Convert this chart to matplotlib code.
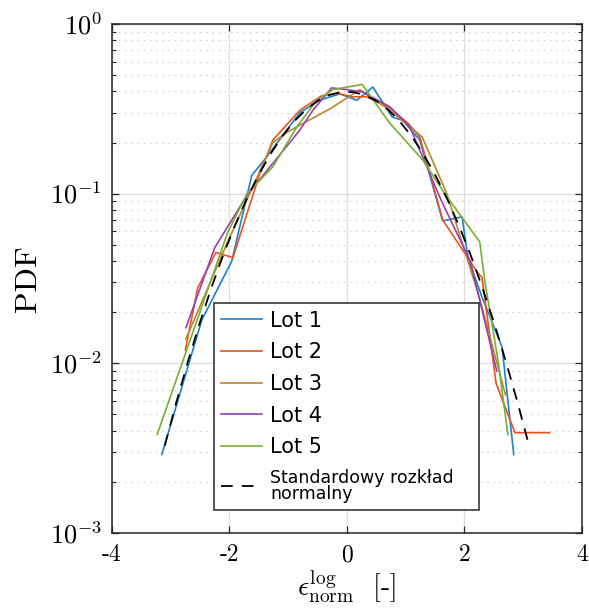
import numpy as np
import matplotlib
matplotlib.use("Agg")
import matplotlib.pyplot as plt
from matplotlib.ticker import FixedLocator, LogLocator, FuncFormatter, NullFormatter

plt.rcParams['mathtext.fontset'] = 'cm'
plt.rcParams['axes.formatter.use_mathtext'] = True

# data
lot1_x = [-3.15, -2.47, -1.96, -1.62, -1.43, -0.80, -0.46, -0.12, 0.17, 0.44, 0.77, 0.95, 1.24, 1.63, 1.96, 2.06, 2.30, 2.64, 2.84]
lot1_y = [0.0029, 0.018, 0.040, 0.128, 0.154, 0.30, 0.356, 0.387, 0.355, 0.425, 0.283, 0.27, 0.207, 0.069, 0.073, 0.042, 0.0245, 0.0125, 0.0029]

lot2_x = [-2.75, -2.54, -2.23, -1.94, -1.48, -1.26, -0.80, -0.43, -0.17, 0.10, 0.34, 0.73, 1.04, 1.24, 1.63, 2.23, 2.30, 2.54, 2.86, 3.45]
lot2_y = [0.012, 0.0278, 0.045, 0.042, 0.132, 0.207, 0.31, 0.377, 0.39, 0.372, 0.372, 0.32, 0.26, 0.216, 0.07, 0.034, 0.032, 0.0076, 0.0039, 0.0039]

lot3_x = [-2.74, -2.04, -1.26, -1.02, -0.29, 0.22, 0.73, 1.28, 1.70, 2.26, 2.70]
lot3_y = [0.0139, 0.051, 0.20, 0.23, 0.316, 0.41, 0.31, 0.216, 0.10, 0.024, 0.0065]

lot4_x = [-2.74, -2.25, -1.70, -0.80, -0.58, -0.26, 0.00, 0.27, 0.73, 1.07, 1.60, 2.10, 2.55]
lot4_y = [0.0162, 0.048, 0.098, 0.237, 0.31, 0.42, 0.41, 0.397, 0.325, 0.248, 0.092, 0.040, 0.009]

lot5_x = [-3.23, -2.03, -1.70, -1.26, -0.85, -0.51, -0.24, 0.26, 0.73, 1.29, 1.70, 2.26, 2.35, 2.57, 2.74]
lot5_y = [0.0038, 0.059, 0.10, 0.144, 0.248, 0.356, 0.41, 0.44, 0.26, 0.158, 0.096, 0.052, 0.030, 0.0105, 0.0038]

norm_x = [-3.1, -2.9, -2.7, -2.5, -2.3, -2.1, -1.9, -1.7, -1.5, -1.3, -1.1, -0.9, -0.7, -0.5, -0.3, -0.1,
          0.1, 0.3, 0.5, 0.7, 0.9, 1.1, 1.3, 1.5, 1.7, 1.9, 2.1, 2.3, 2.5, 2.7, 2.9, 3.1]
norm_y = [0.00327, 0.00595, 0.0104, 0.0175, 0.0283, 0.0440, 0.0656, 0.0940, 0.1295, 0.1714, 0.2179, 0.2661,
          0.3123, 0.3521, 0.3814, 0.3970, 0.3970, 0.3814, 0.3521, 0.3123, 0.2661, 0.2179, 0.1714, 0.1295,
          0.0940, 0.0656, 0.0440, 0.0283, 0.0175, 0.0104, 0.00595, 0.00327]

labels = ['Lot 1', 'Lot 2', 'Lot 3', 'Lot 4', 'Lot 5', 'Standardowy rozkład\nnormalny']
colors = ['#1A82CF', '#E8531E', '#B8862E', '#9B3FAF', '#77B032']
x_ticks = [-4, -2, 0, 2, 4]
x_tick_labels = ['-4', '-2', '0', '2', '4']

fig = plt.figure(figsize=(5.89, 6.14), dpi=100)
ax = fig.add_axes([0.190, 0.132, 0.798, 0.829])

series = [(lot1_x, lot1_y), (lot2_x, lot2_y), (lot3_x, lot3_y), (lot4_x, lot4_y), (lot5_x, lot5_y)]
for (xs, ys), c, lab in zip(series, colors, labels[:5]):
    ax.plot(xs, ys, color=c, lw=1.2, label=lab)
ax.plot(norm_x, norm_y, color='black', lw=1.3, dashes=[6.5, 5], label=labels[5])

ax.set_yscale('log')
ax.set_xlim(-4, 4)
ax.set_ylim(1e-3, 1)

# ticks
ax.xaxis.set_major_locator(FixedLocator(x_ticks))
ax.set_xticklabels(x_tick_labels, fontfamily='cmr10', fontsize=17)
ax.yaxis.set_major_locator(LogLocator(base=10, numticks=10))
ax.yaxis.set_minor_locator(LogLocator(base=10, subs=np.arange(2, 10), numticks=20))
ax.yaxis.set_major_formatter(FuncFormatter(lambda v, p: r'$10^{%d}$' % round(np.log10(v))))
ax.yaxis.set_minor_formatter(NullFormatter())
ax.tick_params(which='both', direction='in', top=True, right=True, color='#262626')
ax.tick_params(which='major', length=5, width=0.9, pad=8)
ax.tick_params(which='minor', length=3, width=0.8)
ax.tick_params(axis='y', labelsize=19, pad=7)

# grid
ax.grid(which='major', color='#dcdcdc', lw=0.9, ls='-')
ax.grid(which='minor', axis='y', color='#c8c8c8', lw=0.9, ls=(0, (1, 4)))
ax.set_axisbelow(True)
for s in ax.spines.values():
    s.set_color('#262626')
    s.set_linewidth(1.1)

ax.set_ylabel('PDF', fontfamily='cmr10', fontsize=23, labelpad=6)
ax.set_xlabel(r'$\epsilon^{\log}_{\mathrm{norm}}$  [-]', fontfamily='cmr10', fontsize=20, labelpad=2)

leg = ax.legend(loc='lower left', bbox_to_anchor=(0.217, 0.045, 0.564, 0.40), mode='expand',
                borderaxespad=0, fancybox=False, framealpha=1, edgecolor='#262626',
                fontsize=15, handlelength=1.95, handletextpad=0.4, labelspacing=0.56, borderpad=0.35)
leg.get_frame().set_linewidth(1.1)
leg.get_texts()[5].set_fontsize(12.5)
leg.get_texts()[5].set_linespacing(0.85)

fig.savefig('out.png', dpi=100)
